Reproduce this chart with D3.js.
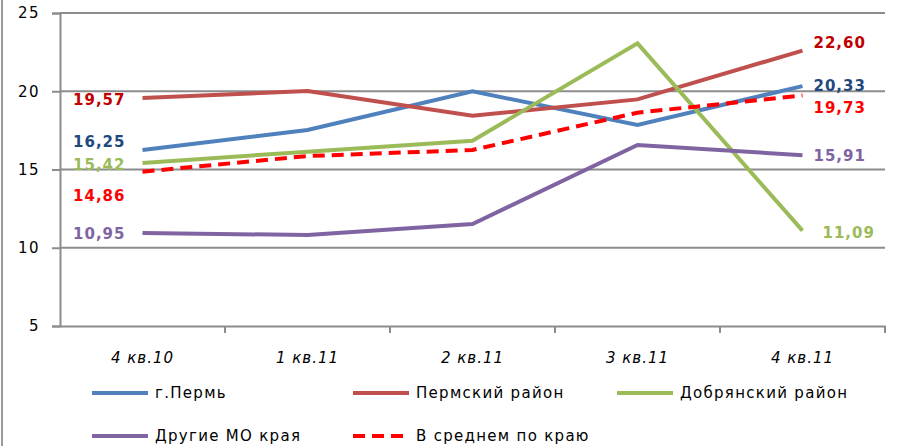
<!DOCTYPE html>
<html>
<head>
<meta charset="utf-8">
<script src="https://cdn.jsdelivr.net/npm/d3@7"></script>
<style>
  body { margin: 0; background: #fff; }
  svg { display: block; font-family: "DejaVu Sans", Verdana, sans-serif; }
</style>
</head>
<body>
<div id="chart"></div>
<script>
const quarters = ["4 кв.10", "1 кв.11", "2 кв.11", "3 кв.11", "4 кв.11"]
const yTicks = [5, 10, 15, 20, 25]

const perm = [16.25, 17.52, 20.0, 17.84, 20.33]
const permDistrict = [19.57, 20.02, 18.44, 19.48, 22.60]
const dobryanka = [15.42, 16.14, 16.84, 23.06, 11.09]
const otherMO = [10.95, 10.81, 11.52, 16.57, 15.91]
const average = [14.86, 15.86, 16.25, 18.63, 19.73]

const seriesNames = ["г.Пермь", "Пермский район", "Добрянский район", "Другие МО края", "В среднем по краю"]

const width = 897, height = 446
const margin = { top: 13, right: 12, bottom: 120, left: 60 }

// series table built from the arrays above (dyL / dyR nudge the end labels)
const series = [
    { name: seriesNames[0], values: perm, color: "#4F81BD", label: "#1F497D", dash: null, dyL: -8, dyR: 0 },
    { name: seriesNames[1], values: permDistrict, color: "#C0504D", label: "#C00000", dash: null, dyL: 2, dyR: -8 },
    { name: seriesNames[2], values: dobryanka, color: "#9BBB59", label: "#9BBB59", dash: null, dyL: 2, dyR: 2 },
    { name: seriesNames[3], values: otherMO, color: "#8064A2", label: "#8064A2", dash: null, dyL: 1, dyR: 0 },
    { name: seriesNames[4], values: average, color: "#FF0000", label: "#FF0000", dash: "12,7", dyL: 24, dyR: 12 }
]

const svg = d3.select("#chart")
    .append("svg")
    .attr("width", width)
    .attr("height", height)

const x = d3.scaleBand()
    .domain(quarters)
    .range([margin.left, width - margin.right])

const y = d3.scaleLinear()
    .domain([5, 25])
    .range([height - margin.bottom, margin.top])

// chart frame edge on the left
svg.append("line")
    .attr("x1", 2).attr("x2", 2)
    .attr("y1", 0).attr("y2", height)
    .attr("stroke", "#9a9a9a")
    .attr("stroke-width", 2)

// gridlines
svg.append("g")
    .selectAll("line")
    .data(yTicks.filter(d => d > 5))
    .join("line")
    .attr("x1", margin.left)
    .attr("x2", width - margin.right)
    .attr("y1", d => y(d))
    .attr("y2", d => y(d))
    .attr("stroke", "#8c8c8c")
    .attr("stroke-width", 2)

// y axis
const yAxis = svg.append("g")
    .attr("transform", `translate(${margin.left},0)`)
    .call(d3.axisLeft(y).tickValues(yTicks).tickSize(8).tickPadding(12).tickFormat(d3.format("d")))
yAxis.attr("font-family", "DejaVu Sans, sans-serif").attr("font-size", 15)
yAxis.select(".domain").attr("stroke", "#8c8c8c").attr("stroke-width", 2)
yAxis.selectAll(".tick line").attr("stroke", "#8c8c8c").attr("stroke-width", 2)
yAxis.selectAll(".tick text")
    .attr("fill", "#000")
    .attr("letter-spacing", 1.5)

// x axis
const xAxis = svg.append("g")
    .attr("transform", `translate(0,${y(5)})`)
    .call(d3.axisBottom(x).tickSize(0).tickPadding(26))
xAxis.attr("font-family", "DejaVu Sans, sans-serif").attr("font-size", 15)
xAxis.select(".domain").attr("stroke", "#8c8c8c").attr("stroke-width", 2)
xAxis.selectAll(".tick text")
    .attr("font-style", "italic")
    .attr("letter-spacing", 1)
    .attr("fill", "#000")

// category boundary ticks
const bounds = quarters.map(q => x(q)).slice(1).concat([x(quarters[quarters.length - 1]) + x.bandwidth()])
svg.append("g")
    .selectAll("line")
    .data(bounds)
    .join("line")
    .attr("x1", d => d).attr("x2", d => d)
    .attr("y1", y(5)).attr("y2", y(5) + 7)
    .attr("stroke", "#8c8c8c")
    .attr("stroke-width", 2)

const cx = q => x(q) + x.bandwidth() / 2

const line = d3.line()
    .x((d, i) => cx(quarters[i]))
    .y(d => y(d))

svg.append("g")
    .selectAll("path")
    .data(series)
    .join("path")
    .attr("d", d => line(d.values))
    .attr("fill", "none")
    .attr("stroke", d => d.color)
    .attr("stroke-width", 4)
    .attr("stroke-dasharray", d => d.dash)

const fmt = v => v.toFixed(2).replace(".", ",")

// data labels, first and last point
const labels = svg.append("g")
    .attr("font-size", 15)
    .attr("font-weight", "bold")
    .attr("letter-spacing", 1)

labels.selectAll(".lbl-left")
    .data(series)
    .join("text")
    .attr("class", "lbl-left")
    .attr("x", cx(quarters[0]) - 17)
    .attr("y", d => y(d.values[0]) + d.dyL)
    .attr("dy", "0.35em")
    .attr("text-anchor", "end")
    .attr("fill", d => d.label)
    .text(d => fmt(d.values[0]))

labels.selectAll(".lbl-right")
    .data(series)
    .join("text")
    .attr("class", "lbl-right")
    .attr("x", d => cx(quarters[4]) + (d.name === seriesNames[2] ? 20 : 11))
    .attr("y", d => y(d.values[4]) + d.dyR)
    .attr("dy", "0.35em")
    .attr("fill", d => d.label)
    .text(d => fmt(d.values[4]))

// legend
const legendPos = [[92, 393], [353, 393], [617, 393], [92, 436], [353, 436]]
const legend = svg.append("g")
    .selectAll("g")
    .data(series)
    .join("g")
    .attr("transform", (d, i) => `translate(${legendPos[i][0]},${legendPos[i][1]})`)

legend.append("line")
    .attr("x1", 0).attr("x2", 56)
    .attr("stroke", d => d.color)
    .attr("stroke-width", 4)
    .attr("stroke-dasharray", d => d.dash)

legend.append("text")
    .attr("x", 63)
    .attr("dy", "0.35em")
    .attr("font-size", 15)
    .attr("letter-spacing", 1.3)
    .text(d => d.name)
</script>
</body>
</html>
